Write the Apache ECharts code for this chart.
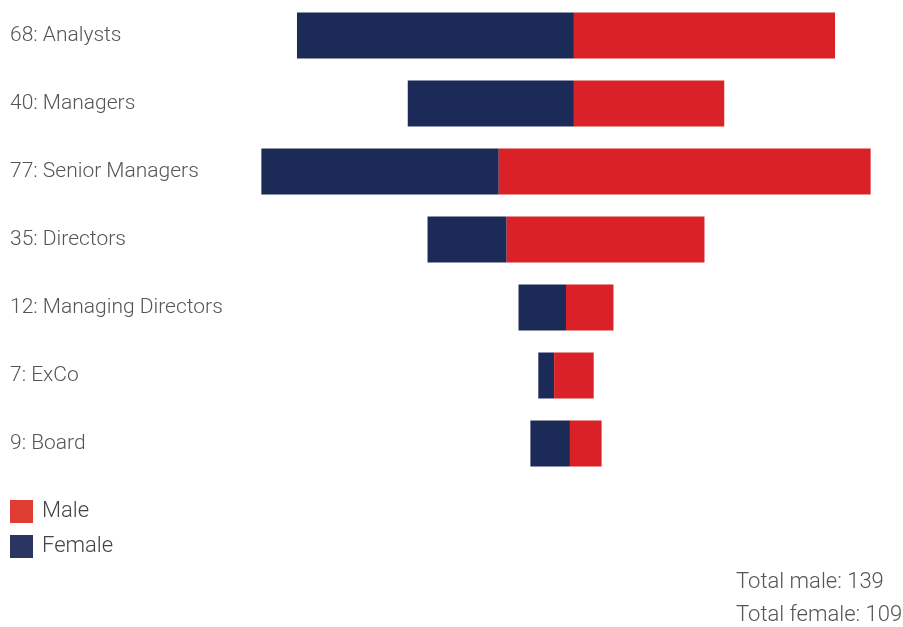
<!DOCTYPE html>
<html><head><meta charset="utf-8">
<script src="https://cdn.jsdelivr.net/npm/echarts@6/dist/echarts.min.js"></script>
<style>html,body{margin:0;padding:0;background:#fff}#c{width:903px;height:627px}</style>
</head><body><div id="c"></div>
<script>
var categories = ['Analysts','Managers','Senior Managers','Directors','Managing Directors','ExCo','Board'];
var female = [35, 21, 30, 10, 6, 2, 5];
var male = [33, 19, 47, 25, 6, 5, 4];

var totals = categories.map(function(c,i){return female[i]+male[i];});
var labels = categories.map(function(c,i){return totals[i]+': '+c;});
var offsets = totals.map(function(t){return 40 - t/2;});
var sumMale = male.reduce(function(a,b){return a+b;},0);
var sumFemale = female.reduce(function(a,b){return a+b;},0);

var FONT = 'Roboto';
var chart = echarts.init(document.getElementById('c'));
chart.setOption({
  animation:false,
  grid:{left:249.5, width:633, top:1.5, height:476},
  xAxis:{type:'value', min:0, max:80, show:false},
  yAxis:{type:'category', data:labels, inverse:true,
    axisLine:{show:false}, axisTick:{show:false},
    axisLabel:{align:'left', margin:239.5, fontSize:21, color:'#555', fontFamily:FONT, fontWeight:300}},
  legend:{orient:'vertical', left:5, top:495, itemWidth:23, itemHeight:23, itemGap:12, icon:'rect',
    textStyle:{fontSize:22, color:'#444', fontFamily:FONT, fontWeight:300, padding:[0,0,0,4]},
    data:[{name:'Male', itemStyle:{color:'#E03C31'}},{name:'Female', itemStyle:{color:'#2B3561'}}]},
  series:[
    {name:'offset', type:'bar', stack:'s', data:offsets, barWidth:46, itemStyle:{color:'transparent'}, silent:true},
    {name:'Female', type:'bar', stack:'s', data:female, barWidth:46, itemStyle:{color:'#1C2A58'}},
    {name:'Male', type:'bar', stack:'s', data:male, barWidth:46, itemStyle:{color:'#DA2128'}}
  ],
  graphic:[
    {type:'text', left:736, top:571, style:{text:'Total male: '+sumMale, fontSize:22, fill:'#555', fontFamily:FONT, fontWeight:300}},
    {type:'text', left:736, top:604, style:{text:'Total female: '+sumFemale, fontSize:22, fill:'#555', fontFamily:FONT, fontWeight:300}}
  ]
});
</script></body></html>
